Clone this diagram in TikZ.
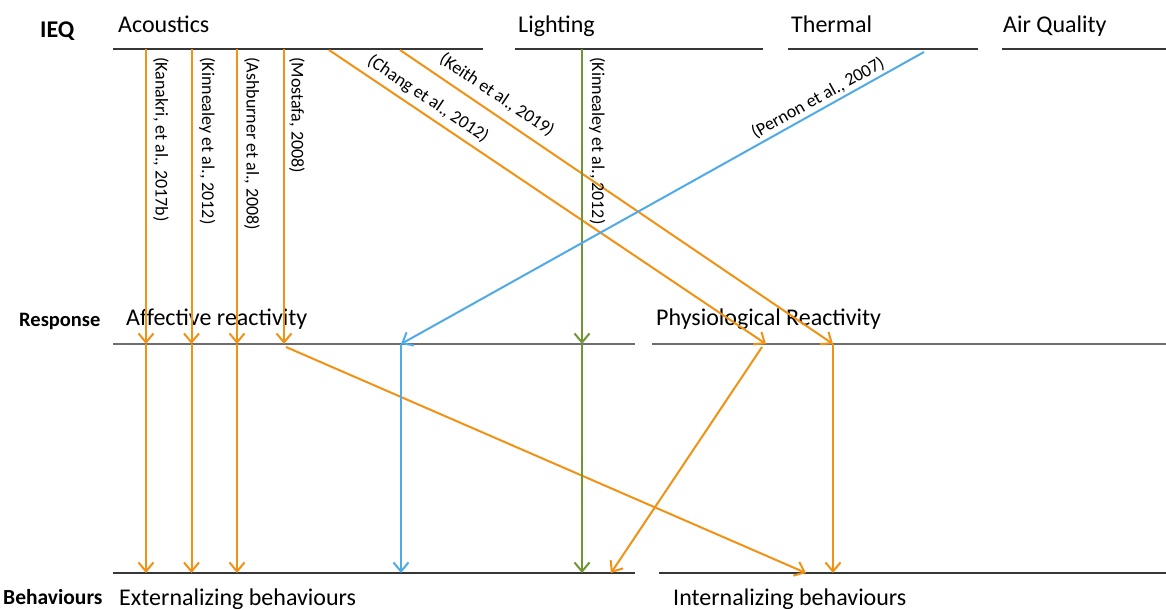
\documentclass[tikz,border=0pt]{standalone}
\usepackage{fontspec}
\setmainfont{Carlito}
\usetikzlibrary{arrows.meta}
\definecolor{ora}{RGB}{242,146,20}
\definecolor{sky}{RGB}{80,170,230}
\definecolor{leaf}{RGB}{110,150,50}
\definecolor{rulec}{RGB}{55,55,55}
\definecolor{rulethin}{RGB}{110,110,110}
\begin{document}
\begin{tikzpicture}[x=1pt,y=-1pt,
  lvl/.style={draw=rulec, line width=1.8pt},
  lvlthin/.style={draw=rulethin, line width=1.2pt},
  link/.style={line width=2pt, -{Straight Barb[length=9pt,width=15pt,line width=2pt]}},
  head/.style={font=\fontsize{24}{28}\selectfont, anchor=base west, inner sep=0},
  tag/.style={font=\bfseries\fontsize{20.5}{24}\selectfont, anchor=base west, inner sep=0},
  cite/.style={font=\fontsize{18}{21}\selectfont, inner sep=0},
  vcite/.style={cite, rotate=-90, anchor=south west}
]
\useasboundingbox (0,0) rectangle (1166,609);

% level rules
\draw[lvl] (113,49) -- (483,49);
\draw[lvl] (515,49) -- (763,49);
\draw[lvl] (788,49) -- (978,49);
\draw[lvl] (1002,49) -- (1166,49);
\draw[lvlthin] (113,344) -- (635,344);
\draw[lvlthin] (652,344) -- (1166,344);
\draw[lvl] (113,573) -- (635,573);
\draw[lvl] (659,573) -- (1166,573);

% headings
\node[tag] (ieq) at (40,38) {\fontsize{24}{28}\selectfont IEQ};
\node[head] (acou) at (118,33) {Acoustics};
\node[head] (ligh) at (518,33) {Lighting};
\node[head] (ther) at (791,33) {Thermal};
\node[head] (airq) at (1003,33) {Air Quality};
\node[tag] (resp) at (19,326) {Response};
\node[head] (affr) at (126,325) {Affective reactivity};
\node[head] (phyr) at (656,325) {Physiological Reactivity};
\node[tag] (behv) at (3,604) {\fontsize{21.5}{25}\selectfont Behaviours};
\node[head] (extb) at (119,605) {Externalizing behaviours};
\node[head] (intb) at (673,605) {Internalizing behaviours};

% anchor points
\coordinate (k1) at (146,49);   \coordinate (k2) at (146,344);   \coordinate (k3) at (146,573);
\coordinate (n1) at (191.5,49); \coordinate (n2) at (191.5,344); \coordinate (n3) at (191.5,573);
\coordinate (a1) at (237,49);   \coordinate (a2) at (237,344);   \coordinate (a3) at (237,573);
\coordinate (m1) at (284,49);   \coordinate (m2) at (284,344);
\coordinate (m2b) at (286,347); \coordinate (m3) at (806,573);
\coordinate (c1) at (329,50);   \coordinate (c2) at (766,344);
\coordinate (e1) at (400,50);   \coordinate (e2) at (833,344);   \coordinate (e3) at (833,573);
\coordinate (g1) at (582,49);   \coordinate (g2) at (582,344);   \coordinate (g3) at (582,573);
\coordinate (p1) at (924,52);   \coordinate (p2) at (401,344);   \coordinate (p3) at (401,573);
\coordinate (q1) at (762,347);  \coordinate (q2) at (611,573);

% orange connectors
\draw[link, ora] (k1) -- (k2);
\draw[link, ora] (k2) -- (k3);
\draw[link, ora] (n1) -- (n2);
\draw[link, ora] (n2) -- (n3);
\draw[link, ora] (a1) -- (a2);
\draw[link, ora] (a2) -- (a3);
\draw[link, ora] (m1) -- (m2);
\draw[link, ora] (m2b) -- (m3);
\draw[link, ora] (c1) -- (c2);
\draw[link, ora] (e1) -- (e2);
\draw[link, ora] (e2) -- (e3);
\draw[link, ora] (q1) -- (q2);
% green
\draw[link, leaf] (g1) -- (g2);
\draw[link, leaf] (g2) -- (g3);
% blue
\draw[link, sky] (p1) -- (p2);
\draw[link, sky] (p2) -- (p3);

% citation labels
\node[vcite] (lk) at (153,57) {(Kanakri, et al., 2017b)};
\node[vcite] (ln) at (199,57) {(Kinnealey et al., 2012)};
\node[vcite] (la) at (244,57) {(Ashburner et al., 2008)};
\node[vcite] (lm) at (289,57) {(Mostafa, 2008)};
\node[vcite] (lg) at (589,57) {(Kinnealey et al., 2012)};
\node[cite, rotate=-34] (lc) at (428,99) {(Chang et al., 2012)};
\node[cite, rotate=-34] (le) at (497,95) {(Keith et al., 2019)};
\node[cite, rotate=29] (lp) at (818,98) {(Pernon et al., 2007)};
\end{tikzpicture}
\end{document}
